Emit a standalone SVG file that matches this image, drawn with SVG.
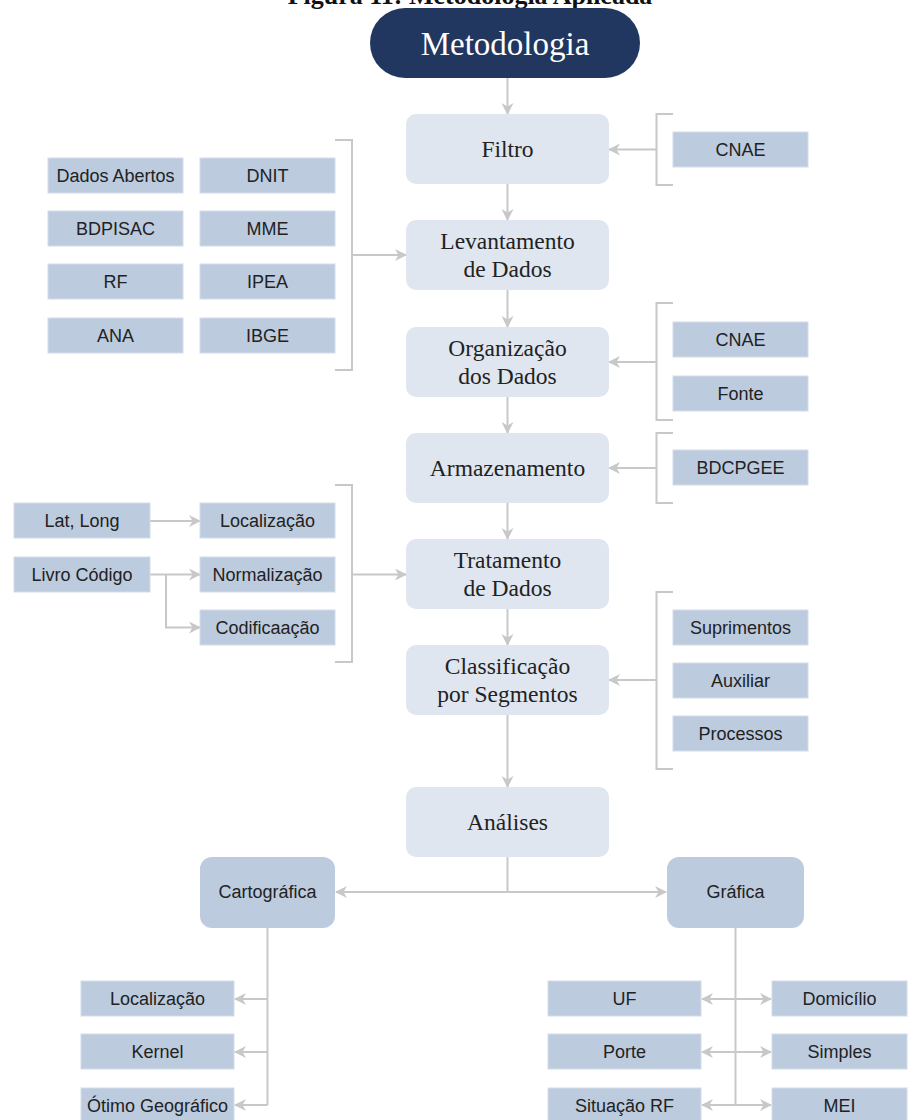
<svg xmlns="http://www.w3.org/2000/svg" width="912" height="1120" viewBox="0 0 912 1120">
<defs>
<style>
.main{fill:#dfe6ef;}
.box{fill:#bccbde;stroke:#d3dde9;stroke-width:1;}
.sub{fill:#bccbde;}
.st{font-family:"Liberation Serif","Times New Roman",serif;font-size:23.5px;fill:#222;text-anchor:middle;}
.bt{font-family:"Liberation Sans",Arial,sans-serif;font-size:18px;fill:#222;text-anchor:middle;}
.ln{fill:none;stroke:#c8c8c8;stroke-width:2;}
.ar{fill:none;stroke:#c8c8c8;stroke-width:2;marker-end:url(#ah);}
.ar2{fill:none;stroke:#c8c8c8;stroke-width:2;marker-end:url(#ah);marker-start:url(#ah);}
</style>
<marker id="ah" viewBox="0 0 12 12" refX="11" refY="6" markerWidth="12" markerHeight="12" markerUnits="userSpaceOnUse" orient="auto-start-reverse">
<path d="M0,0 L12,6 L0,12 L3.5,6 z" fill="#c8c8c8"/>
</marker>
</defs>
<rect width="912" height="1120" fill="#ffffff"/>
<text x="470" y="4" font-family="'Liberation Serif','Times New Roman',serif" font-size="26" font-weight="bold" text-anchor="middle" fill="#111">Figura 11: Metodologia Aplicada</text>

<g id="connectors">
<path class="ar" d="M507.5,78 V114"/>
<path class="ar" d="M507.5,184 V220"/>
<path class="ar" d="M507.5,290 V327"/>
<path class="ar" d="M507.5,397 V433"/>
<path class="ar" d="M507.5,503 V539"/>
<path class="ar" d="M507.5,609 V645"/>
<path class="ar" d="M507.5,715 V787"/>
<!-- right brackets -->
<path class="ln" d="M673,114 H656.5 V185 H673"/>
<path class="ar" d="M656.5,149.5 H609"/>
<path class="ln" d="M673,303 H656.5 V420 H673"/>
<path class="ar" d="M656.5,362 H609"/>
<path class="ln" d="M673,433 H656.5 V503 H673"/>
<path class="ar" d="M656.5,468 H609"/>
<path class="ln" d="M673,592 H656.5 V769 H673"/>
<path class="ar" d="M656.5,680 H609"/>
<!-- left brackets -->
<path class="ln" d="M335,140 H352 V370 H335"/>
<path class="ar" d="M352,255 H406"/>
<path class="ln" d="M335,485 H352 V662 H335"/>
<path class="ar" d="M352,574.5 H406"/>
<path class="ar" d="M150,521 H200"/>
<path class="ar" d="M150,574.5 H200"/>
<path class="ar" d="M166,574.5 V627.5 H200"/>
<!-- analyses -->
<path class="ln" d="M507.5,857 V892"/>
<path class="ar2" d="M336,892 H666"/>
<path class="ln" d="M267.5,928 V1105"/>
<path class="ar" d="M267.5,999 H235"/>
<path class="ar" d="M267.5,1052 H235"/>
<path class="ar" d="M267.5,1105 H235"/>
<path class="ln" d="M735.5,928 V1105"/>
<path class="ar2" d="M702,999 H771"/>
<path class="ar2" d="M702,1052 H771"/>
<path class="ar2" d="M702,1105 H771"/>
</g>

<g id="metodologia">
<rect x="370" y="8" width="270" height="70" rx="35" fill="#22375f"/>
<text x="505" y="55" font-family="'Liberation Serif','Times New Roman',serif" font-size="33" fill="#ffffff" text-anchor="middle">Metodologia</text>
</g>

<g id="filtro"><rect class="main" x="406" y="114" width="203" height="70" rx="10"/><text class="st" x="507.5" y="157">Filtro</text></g>
<g id="levantamento"><rect class="main" x="406" y="220" width="203" height="70" rx="10"/><text class="st" x="507.5" y="249">Levantamento</text><text class="st" x="507.5" y="277">de Dados</text></g>
<g id="organizacao"><rect class="main" x="406" y="327" width="203" height="70" rx="10"/><text class="st" x="507.5" y="356">Organização</text><text class="st" x="507.5" y="384">dos Dados</text></g>
<g id="armazenamento"><rect class="main" x="406" y="433" width="203" height="70" rx="10"/><text class="st" x="507.5" y="476">Armazenamento</text></g>
<g id="tratamento"><rect class="main" x="406" y="539" width="203" height="70" rx="10"/><text class="st" x="507.5" y="568">Tratamento</text><text class="st" x="507.5" y="596">de Dados</text></g>
<g id="classificacao"><rect class="main" x="406" y="645" width="203" height="70" rx="10"/><text class="st" x="507.5" y="674">Classificação</text><text class="st" x="507.5" y="702">por Segmentos</text></g>
<g id="analises"><rect class="main" x="406" y="787" width="203" height="70" rx="10"/><text class="st" x="507.5" y="830">Análises</text></g>

<g id="cnae1"><rect class="box" x="673" y="132" width="135" height="35"/><text class="bt" x="740.5" y="156">CNAE</text></g>
<g id="cnae2"><rect class="box" x="673" y="322" width="135" height="35"/><text class="bt" x="740.5" y="346">CNAE</text></g>
<g id="fonte"><rect class="box" x="673" y="376" width="135" height="35"/><text class="bt" x="740.5" y="400">Fonte</text></g>
<g id="bdcpgee"><rect class="box" x="673" y="450" width="135" height="35"/><text class="bt" x="740.5" y="474">BDCPGEE</text></g>
<g id="suprimentos"><rect class="box" x="673" y="610" width="135" height="35"/><text class="bt" x="740.5" y="634">Suprimentos</text></g>
<g id="auxiliar"><rect class="box" x="673" y="663" width="135" height="35"/><text class="bt" x="740.5" y="687">Auxiliar</text></g>
<g id="processos"><rect class="box" x="673" y="716" width="135" height="35"/><text class="bt" x="740.5" y="740">Processos</text></g>

<g id="dadosabertos"><rect class="box" x="48" y="158" width="135" height="35"/><text class="bt" x="115.5" y="182">Dados Abertos</text></g>
<g id="bdpisac"><rect class="box" x="48" y="211" width="135" height="35"/><text class="bt" x="115.5" y="235">BDPISAC</text></g>
<g id="rf"><rect class="box" x="48" y="264" width="135" height="35"/><text class="bt" x="115.5" y="288">RF</text></g>
<g id="ana"><rect class="box" x="48" y="318" width="135" height="35"/><text class="bt" x="115.5" y="342">ANA</text></g>
<g id="dnit"><rect class="box" x="200" y="158" width="135" height="35"/><text class="bt" x="267.5" y="182">DNIT</text></g>
<g id="mme"><rect class="box" x="200" y="211" width="135" height="35"/><text class="bt" x="267.5" y="235">MME</text></g>
<g id="ipea"><rect class="box" x="200" y="264" width="135" height="35"/><text class="bt" x="267.5" y="288">IPEA</text></g>
<g id="ibge"><rect class="box" x="200" y="318" width="135" height="35"/><text class="bt" x="267.5" y="342">IBGE</text></g>

<g id="latlong"><rect class="box" x="14" y="503" width="136" height="35"/><text class="bt" x="82" y="527">Lat, Long</text></g>
<g id="livrocodigo"><rect class="box" x="14" y="557" width="136" height="35"/><text class="bt" x="82" y="581">Livro Código</text></g>
<g id="localizacao1"><rect class="box" x="200" y="503" width="135" height="35"/><text class="bt" x="267.5" y="527">Localização</text></g>
<g id="normalizacao"><rect class="box" x="200" y="557" width="135" height="35"/><text class="bt" x="267.5" y="581">Normalização</text></g>
<g id="codificacao"><rect class="box" x="200" y="610" width="135" height="35"/><text class="bt" x="267.5" y="634">Codificaação</text></g>

<g id="cartografica"><rect class="sub" x="200" y="857" width="135" height="71" rx="12"/><text class="bt" x="267.5" y="898">Cartográfica</text></g>
<g id="grafica"><rect class="sub" x="667" y="857" width="137" height="71" rx="12"/><text class="bt" x="735.5" y="898">Gráfica</text></g>

<g id="localizacao2"><rect class="box" x="81" y="981" width="153" height="35"/><text class="bt" x="157.5" y="1005">Localização</text></g>
<g id="kernel"><rect class="box" x="81" y="1034" width="153" height="35"/><text class="bt" x="157.5" y="1058">Kernel</text></g>
<g id="otimo"><rect class="box" x="81" y="1088" width="153" height="35"/><text class="bt" x="157.5" y="1112">Ótimo Geográfico</text></g>

<g id="uf"><rect class="box" x="548" y="981" width="153" height="35"/><text class="bt" x="624.5" y="1005">UF</text></g>
<g id="porte"><rect class="box" x="548" y="1034" width="153" height="35"/><text class="bt" x="624.5" y="1058">Porte</text></g>
<g id="situacao"><rect class="box" x="548" y="1088" width="153" height="35"/><text class="bt" x="624.5" y="1112">Situação RF</text></g>
<g id="domicilio"><rect class="box" x="772" y="981" width="135" height="35"/><text class="bt" x="839.5" y="1005">Domicílio</text></g>
<g id="simples"><rect class="box" x="772" y="1034" width="135" height="35"/><text class="bt" x="839.5" y="1058">Simples</text></g>
<g id="mei"><rect class="box" x="772" y="1088" width="135" height="35"/><text class="bt" x="839.5" y="1112">MEI</text></g>
</svg>
